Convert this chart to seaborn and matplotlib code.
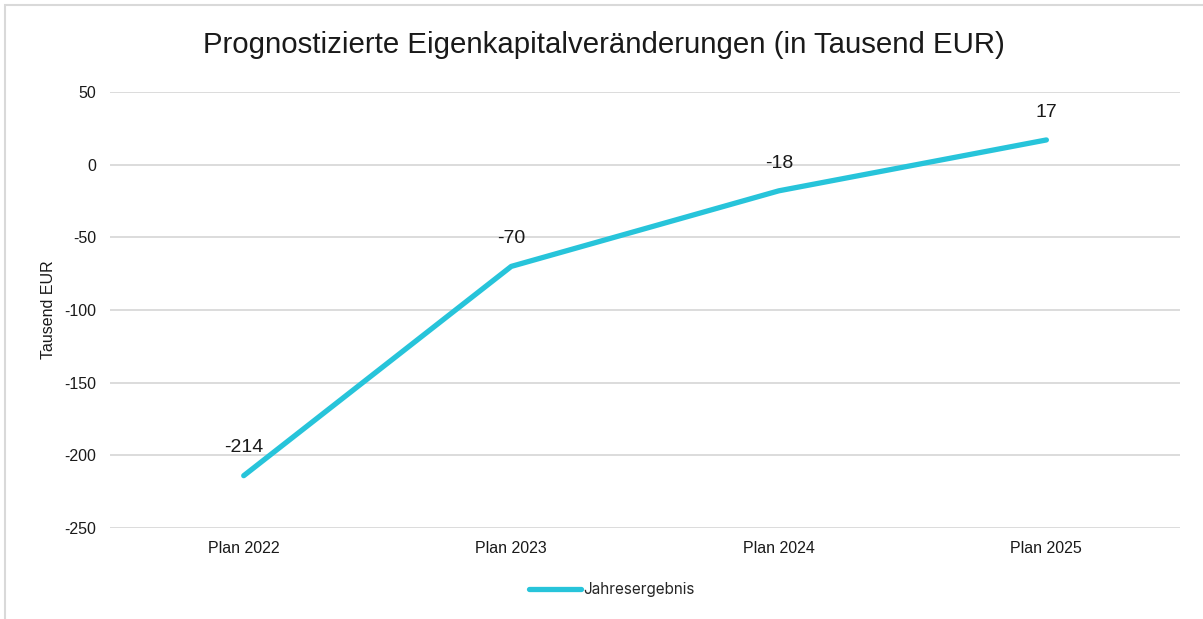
import pandas as pd
import matplotlib.pyplot as plt
import seaborn as sns
from matplotlib.patches import Rectangle

categories = ["Plan 2022", "Plan 2023", "Plan 2024", "Plan 2025"]
values = [-214, -70, -18, 17]
series_name = "Jahresergebnis"

df = pd.DataFrame({"Jahr": categories, "Wert": values})

sns.set_style("white")
plt.rcParams["font.family"] = ["Liberation Sans", "DejaVu Sans"]
plt.rcParams["axes.unicode_minus"] = False

fig = plt.figure(figsize=(12.03, 6.19), dpi=100)
ax = fig.add_axes([0.0914, 0.147, 0.8896, 0.7044])

color = "#27C4DA"
sns.lineplot(data=df, x="Jahr", y="Wert", ax=ax, color=color, linewidth=3.8,
             solid_capstyle="round", label=series_name, sort=False)

for i, v in enumerate(values):
    ax.annotate(str(v), (i, v), xytext=(0, 20), textcoords="offset points",
                ha="center", va="center", fontsize=14, color="#1a1a1a")

ax.set_xlim(-0.5, 3.5)
ax.set_ylim(-250, 50)
ax.set_yticks(range(-250, 51, 50))
ax.yaxis.grid(True, color="#d9d9d9", linewidth=1.3)
ax.set_axisbelow(True)
for s in ax.spines.values():
    s.set_visible(False)
ax.tick_params(axis="both", length=0, labelsize=11.5, colors="#1a1a1a")
ax.tick_params(axis="y", pad=10)
ax.tick_params(axis="x", pad=9)
ax.set_xlabel("")
ax.set_ylabel("Tausend EUR", fontsize=11.5, color="#1a1a1a")
ax.yaxis.set_label_coords(-0.05, 0.5)

fig.text(0.502, 0.928, "Prognostizierte Eigenkapitalveränderungen (in Tausend EUR)",
         ha="center", va="center", fontsize=21.2, color="#1a1a1a")

leg = ax.legend(loc="center", bbox_to_anchor=(0.469, -0.142), frameon=False,
                handlelength=3.4, handletextpad=0.2,
                prop={"family": ["Inter", "DejaVu Sans"], "size": 11})

fig.patches.append(Rectangle((5 / 1203, -0.1), 1.2, 1 - 5 / 619 + 0.1,
                             transform=fig.transFigure, fill=False,
                             edgecolor="#d9d9d9", linewidth=1.5))

plt.savefig("out.png", dpi=100)
